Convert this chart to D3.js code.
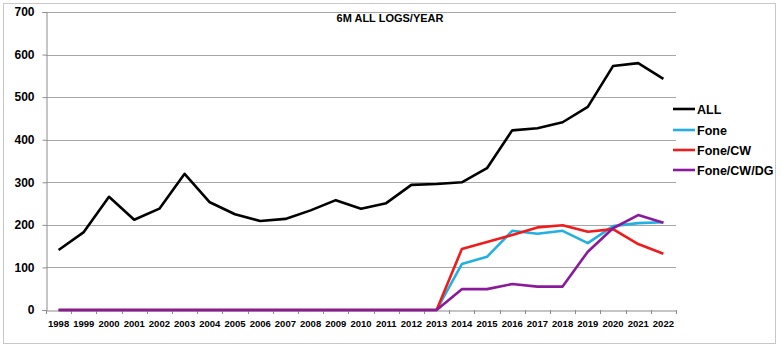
<!DOCTYPE html>
<html><head><meta charset="utf-8">
<script src="https://cdn.jsdelivr.net/npm/d3@7"></script>
<style>html,body{margin:0;padding:0;background:#fff;}svg{display:block;}</style>
</head><body>
<svg id="chart" width="782" height="348"></svg>
<script>
const years = ["1998","1999","2000","2001","2002","2003","2004","2005","2006","2007","2008","2009","2010","2011","2012","2013","2014","2015","2016","2017","2018","2019","2020","2021","2022"];
const allLogs   = [141,183,266,212,238,320,253,225,209,214,234,258,238,251,294,296,300,333,422,427,441,477,573,580,543];
const fone      = [0,0,0,0,0,0,0,0,0,0,0,0,0,0,0,0,108,125,186,179,186,157,197,204,206];
const foneCW    = [0,0,0,0,0,0,0,0,0,0,0,0,0,0,0,0,143,160,176,194,199,184,190,155,132];
const foneCWDG  = [0,0,0,0,0,0,0,0,0,0,0,0,0,0,0,0,49,49,61,55,55,137,192,223,205];
const yTicks = [0,100,200,300,400,500,600,700];
const seriesNames = ["ALL","Fone","Fone/CW","Fone/CW/DG"];
const seriesColors = ["#000000","#22b0e2","#ee1c1c","#8b1a9b"];
const title = "6M ALL LOGS/YEAR";

const svg = d3.select("#chart");
const L = 46, R = 676, T = 12, B = 310;

// outer chart border
svg.append("rect").attr("x",3.5).attr("y",3.5).attr("width",772).attr("height",340)
  .attr("fill","#fff").attr("stroke","#c8c8c8").attr("stroke-width",1);

const x = d3.scaleBand().domain(years).range([L,R]).paddingInner(0).paddingOuter(0);
const y = d3.scaleLinear().domain([0,700]).range([B,T]);

// gridlines
svg.append("g").selectAll("line").data(yTicks.filter(d=>d>0)).join("line")
  .attr("x1",L).attr("x2",R).attr("y1",d=>Math.round(y(d))+0.5).attr("y2",d=>Math.round(y(d))+0.5)
  .attr("stroke","#a6a6a6").attr("stroke-width",1);

// y axis
const yAxis = svg.append("g").attr("transform",`translate(${L+0.5},0)`)
  .call(d3.axisLeft(y).tickValues(yTicks).tickSize(4).tickPadding(8));
yAxis.select(".domain").attr("stroke","#8c8c8c");
yAxis.selectAll(".tick line").attr("stroke","#8c8c8c");
yAxis.selectAll("text").attr("font-family","Liberation Sans, Arial, sans-serif")
  .attr("font-size","12px").attr("font-weight","bold").attr("fill","#000");

// x axis
const xAxis = svg.append("g").attr("transform",`translate(0,${B+0.5})`)
  .call(d3.axisBottom(x).tickSize(0).tickPadding(10));
xAxis.select(".domain").attr("stroke","#8c8c8c");
xAxis.selectAll("text").attr("font-family","Liberation Sans, Arial, sans-serif")
  .attr("font-size","9.5px").attr("font-weight","bold").attr("fill","#000");
// boundary tick marks
const bounds = years.map(d=>x(d)).concat([R]);
svg.append("g").selectAll("line").data(bounds).join("line")
  .attr("x1",d=>Math.round(d)+0.5).attr("x2",d=>Math.round(d)+0.5)
  .attr("y1",B).attr("y2",B+4).attr("stroke","#8c8c8c");

// lines
const data = [allLogs, fone, foneCW, foneCWDG];
const line = d3.line().x((d,i)=>x(years[i])+x.bandwidth()/2).y(d=>y(d));
data.forEach((vals,i)=>{
  svg.append("path").datum(vals).attr("d",line).attr("fill","none")
    .attr("stroke",seriesColors[i]).attr("stroke-width",2.6).attr("stroke-linejoin","round");
});

// title
svg.append("text").attr("x",390).attr("y",22).attr("text-anchor","middle")
  .attr("font-family","Liberation Sans, Arial, sans-serif").attr("font-size","11px")
  .attr("font-weight","bold").text(title);

// legend
const legY = [109,130,150,170];
const lg = svg.append("g");
seriesNames.forEach((n,i)=>{
  lg.append("line").attr("x1",673).attr("x2",695).attr("y1",legY[i]).attr("y2",legY[i])
    .attr("stroke",seriesColors[i]).attr("stroke-width",2.6);
  lg.append("text").attr("x",697).attr("y",legY[i]+4.5)
    .attr("font-family","Liberation Sans, Arial, sans-serif").attr("font-size","12.5px")
    .attr("font-weight","bold").text(n);
});
</script>
</body></html>
